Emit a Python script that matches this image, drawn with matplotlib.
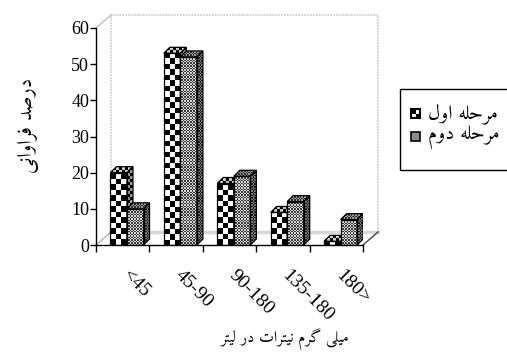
import numpy as np
import matplotlib
matplotlib.use('Agg')
import matplotlib.pyplot as plt
import matplotlib.colors as mcolors
from matplotlib.patches import Polygon, Rectangle
from matplotlib.transforms import offset_copy

# nitrate classes (mg/L) and share of samples in each stage (%)
categories = ['<45', '45-90', '90-180', '135-180', '180>']
stage1 = [20, 53, 17, 9, 1]
stage2 = [10, 52, 19, 12, 7]
stage_names = ['مرحله اول', 'مرحله دوم']
yticks = [0, 10, 20, 30, 40, 50, 60]
xlabel = 'میلی گرم نیترات در لیتر'
ylabel = 'درصد فراوانی'

# Arabic presentation forms: isolated, final, initial, medial
FORMS = {
    'ا': ('\uFE8D', '\uFE8E', None, None),
    'د': ('\uFEA9', '\uFEAA', None, None),
    'ر': ('\uFEAD', '\uFEAE', None, None),
    'و': ('\uFEED', '\uFEEE', None, None),
    'ص': ('\uFEB9', '\uFEBA', '\uFEBB', '\uFEBC'),
    'ف': ('\uFED1', '\uFED2', '\uFED3', '\uFED4'),
    'ن': ('\uFEE5', '\uFEE6', '\uFEE7', '\uFEE8'),
    'ی': ('\uFBFC', '\uFBFD', '\uFBFE', '\uFBFF'),
    'م': ('\uFEE1', '\uFEE2', '\uFEE3', '\uFEE4'),
    'ل': ('\uFEDD', '\uFEDE', '\uFEDF', '\uFEE0'),
    'گ': ('\uFB92', '\uFB93', '\uFB94', '\uFB95'),
    'ت': ('\uFE95', '\uFE96', '\uFE97', '\uFE98'),
    'ح': ('\uFEA1', '\uFEA2', '\uFEA3', '\uFEA4'),
    'ه': ('\uFEE9', '\uFEEA', '\uFEEB', '\uFEEC'),
}


def shape(text):
    # join letters and flip to visual order, matplotlib has no bidi
    out = []
    for i, ch in enumerate(text):
        if ch not in FORMS:
            out.append(ch)
            continue
        prev = text[i - 1] if i > 0 else ''
        nxt = text[i + 1] if i + 1 < len(text) else ''
        iso, fin, ini, med = FORMS[ch]
        left = prev in FORMS and FORMS[prev][2] is not None
        right = ini is not None and nxt in FORMS
        if left and right:
            out.append(med)
        elif left:
            out.append(fin)
        elif right:
            out.append(ini)
        else:
            out.append(iso)
    return ''.join(reversed(out))


W, H = 507, 361
fig = plt.figure(figsize=(W / 100, H / 100), dpi=100)
ax = fig.add_axes([96 / W, 116 / H, 267 / W, 217 / H])
ax.set_xlim(0, 5)
ax.set_ylim(0, 60)

px_x = 5 / 267.0    # data units per pixel
px_y = 60 / 217.0

NUM = 'Liberation Serif'
FA = ['Amiri', 'Noto Naskh Arabic', 'DejaVu Sans']


def pattern_fill(verts, cell_px, colors, z):
    verts = np.asarray(verts, dtype=float)
    xmin, ymin = verts.min(axis=0)
    xmax, ymax = verts.max(axis=0)
    cw, ch = cell_px * px_x, cell_px * px_y
    nx = int(np.ceil((xmax - xmin) / cw)) + 1
    ny = int(np.ceil((ymax - ymin) / ch)) + 1
    grid = np.add.outer(np.arange(ny), np.arange(nx)) % 2
    rgb = np.array([mcolors.to_rgb(c) for c in colors])[grid]
    poly = Polygon(verts, closed=True, facecolor='none', edgecolor='black',
                   lw=0.9, zorder=z + 0.1)
    ax.add_patch(poly)
    im = ax.imshow(rgb, extent=(xmin, xmin + nx * cw, ymin, ymin + ny * ch),
                   origin='lower', interpolation='nearest', aspect='auto', zorder=z)
    im.set_clip_path(poly)


# back wall and floor
wdx, wdy = 15 * px_x, 13 * px_y
wall = '#cfcfcf'
ax.plot([wdx, wdx, 5 + wdx, 5 + wdx], [wdy, 60 + wdy, 60 + wdy, wdy], color=wall,
        lw=1.3, ls=(0, (1, 0.6)), clip_on=False, zorder=1)
ax.plot([wdx, 5 + wdx], [wdy, wdy], color='#d6d6d6', lw=2.5, clip_on=False, zorder=1)
ax.plot([0, wdx], [60, 60 + wdy], color=wall, lw=1.5, clip_on=False, zorder=1)
ax.plot([0, wdx], [0, wdy], color='#bbbbbb', lw=1.2, clip_on=False, zorder=1)
ax.plot([5, 5 + wdx], [0, wdy], color='#444444', lw=1.0, clip_on=False, zorder=1)

# 3D-looking columns
bw = 0.31
ddx, ddy = 6 * px_x, 6 * px_y
series = [
    (stage1, 0.27, 5.5, [('black', 'white'), ('black', '#9a9a9a'), ('black', '#cccccc')]),
    (stage2, 0.58, 1.4, [('#3c3c3c', '#d4d4d4'), ('#1c1c1c', '#7c7c7c'), ('#2e2e2e', '#9c9c9c')]),
]
for k, (vals, off, cell, pals) in enumerate(series):
    for i, v in enumerate(vals):
        x0 = i + off
        z = 3 + 2 * i + k
        front = [(x0, 0), (x0 + bw, 0), (x0 + bw, v), (x0, v)]
        side = [(x0 + bw, 0), (x0 + bw + ddx, ddy), (x0 + bw + ddx, v + ddy), (x0 + bw, v)]
        top = [(x0, v), (x0 + ddx, v + ddy), (x0 + bw + ddx, v + ddy), (x0 + bw, v)]
        pattern_fill(front, cell, pals[0], z)
        pattern_fill(side, min(cell, 3), pals[1], z)
        pattern_fill(top, min(cell, 3), pals[2], z)

ax.set_xlim(0, 5)
ax.set_ylim(0, 60)

# axes
for s in ['top', 'right']:
    ax.spines[s].set_visible(False)
for s in ['left', 'bottom']:
    ax.spines[s].set_linewidth(1.0)
    ax.spines[s].set_zorder(20)
ax.set_yticks(yticks)
ax.set_yticklabels([str(t) for t in yticks], family=NUM, fontsize=13)
ax.tick_params(axis='y', direction='out', length=4, pad=1, width=1)
ax.set_xticks(range(6))
ax.set_xticklabels([])
ax.tick_params(axis='x', direction='out', length=5, width=1)

lab_tr = offset_copy(ax.transData, fig=fig, x=2, y=-28, units='dots')
for i, c in enumerate(categories):
    ax.text(i + 0.5, 0, c, transform=lab_tr, rotation=-45, rotation_mode='anchor',
            ha='left', va='center', family=NUM, fontsize=14)

fig.text(285 / W, 1 - 340 / H, shape(xlabel), family=FA, fontsize=11.5,
         ha='center', va='center')
fig.text(28 / W, 1 - 125 / H, shape(ylabel), family=FA, fontsize=15,
         ha='center', va='center', rotation=90)

# legend box, running past the right edge
fig.patches.append(Rectangle((400 / W, 1 - 170 / H), 140 / W, 81 / H,
                             transform=fig.transFigure, facecolor='white',
                             edgecolor='black', lw=1.0))
mk = 9
for r, yc in enumerate([113.5, 137]):
    x0, y0 = 411, yc - mk / 2
    if r == 0:
        for a in range(2):
            for b in range(2):
                col = 'black' if (a + b) % 2 == 0 else 'white'
                fig.patches.append(Rectangle(((x0 + a * mk / 2) / W, 1 - (y0 + (b + 1) * mk / 2) / H),
                                             mk / 2 / W, mk / 2 / H, transform=fig.transFigure,
                                             facecolor=col, edgecolor='none'))
        fig.patches.append(Rectangle((x0 / W, 1 - (y0 + mk) / H), mk / W, mk / H,
                                     transform=fig.transFigure, facecolor='none',
                                     edgecolor='black', lw=1.5))
    else:
        fig.patches.append(Rectangle((x0 / W, 1 - (y0 + mk) / H), mk / W, mk / H,
                                     transform=fig.transFigure, facecolor='#8c8c8c',
                                     edgecolor='black', lw=1.2))
    fig.text(428 / W, 1 - yc / H, shape(stage_names[r]), family=FA, fontsize=14.5,
             ha='left', va='center')

fig.savefig('out.png', dpi=100)
